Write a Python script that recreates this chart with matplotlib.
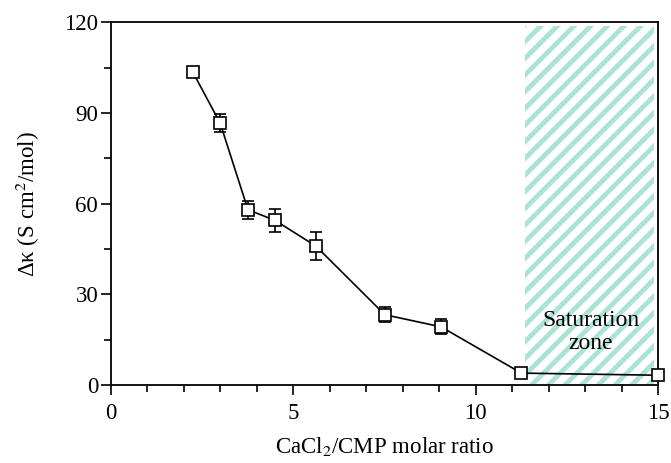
import matplotlib.pyplot as plt
import matplotlib as mpl

mpl.rcParams['font.family'] = 'Liberation Serif'
mpl.rcParams['mathtext.fontset'] = 'stix'
mpl.rcParams['hatch.linewidth'] = 3.5

# data
ratio = [2.25, 3.0, 3.76, 4.5, 5.62, 7.51, 9.05, 11.25, 15.0]
dk = [103.5, 86.6, 58.0, 54.5, 46.0, 23.3, 19.3, 4.0, 3.3]
err = [1.0, 3.0, 3.0, 3.8, 4.5, 2.5, 2.5, 0.8, 0.8]
sat_start, sat_end = 11.35, 14.88

fig = plt.figure(figsize=(6.71, 4.63), dpi=100)
ax = fig.add_axes([0.165, 0.168, 0.816, 0.784])

ax.fill_between([sat_start, sat_end], 0.3, 118.7, facecolor='none',
                edgecolor='#abe4d5', hatch='//', linewidth=0)
ax.text(13.15, 17.5, 'Saturation\nzone', ha='center',
        va='center', fontsize=17, linespacing=1.1, zorder=5)

ax.errorbar(ratio, dk, yerr=err, color='black', lw=1.2, capsize=4,
            elinewidth=1.2, capthick=1.2, marker='s', ms=9, mfc='white',
            mec='black', mew=1.2, clip_on=False, zorder=4)

ax.set_xlim(0, 15)
ax.set_ylim(0, 120)
ax.set_xticks([0, 5, 10, 15])
ax.set_xticks(range(16), minor=True)
ax.set_yticks([0, 30, 60, 90, 120])
ax.set_yticks(range(0, 121, 15), minor=True)
ax.tick_params(direction='out', length=7, width=1.2, labelsize=16.5)
ax.tick_params(axis='x', pad=6)
ax.tick_params(axis='y', pad=2)
ax.tick_params(which='minor', direction='out', length=4.8, width=1.2)
for s in ax.spines.values():
    s.set_linewidth(1.3)

ax.set_xlabel('CaCl$_2$/CMP molar ratio', fontsize=16.5, labelpad=8)
ax.set_ylabel('Δκ (S cm$^2$/mol)', fontsize=16.5, labelpad=16)

fig.savefig('out.png', dpi=100)
